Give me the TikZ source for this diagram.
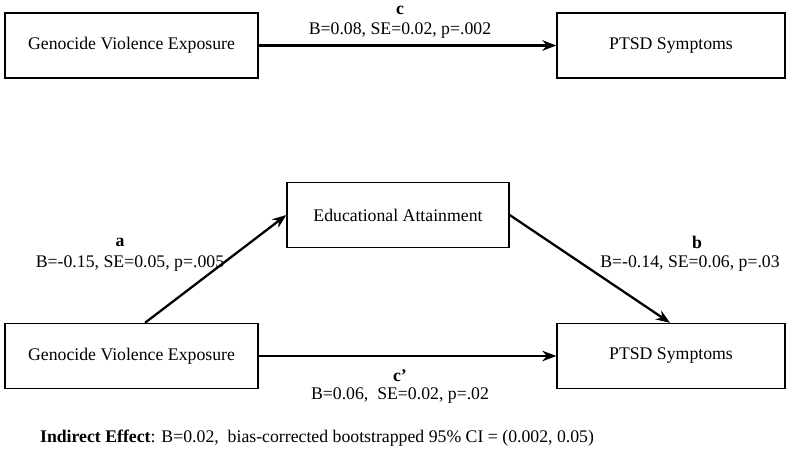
\documentclass[tikz,border=0pt]{standalone}
\usepackage{fontspec}
\setmainfont{Liberation Serif}
\usetikzlibrary{
    arrows.meta,
    positioning
}
\tikzset{
    every picture/.style = {
        > = {Stealth[length=8pt,width=6pt]},
        x = 0.02cm,
        y = -0.02cm
    },
    every node/.style = {
        font = \fontsize{10.1}{12}\selectfont,
        inner sep = 1pt,
        align = center
    },
    varbox/.style = {
        draw,
        thick,
        minimum width = #1,
        minimum height = 1.3cm
    },
    path/.style = {
        ->,
        line width = 1.3pt
    }
}

\begin{document}
\begin{tikzpicture}
    \useasboundingbox (0, 0) rectangle (800, 471);
    % total effect
    \node[varbox = 5.06cm] (gve1) at (131.5, 45.5) {Genocide Violence Exposure};
    \node[varbox = 4.56cm] (ptsd1) at (671, 45.5) {PTSD Symptoms};
    \draw[path] (gve1) -- (ptsd1);
    \node at (400, 10) {\textbf{c}};
    \node at (400, 30) {B=0.08, SE=0.02, p=.002};

    % mediation model
    \node[varbox = 4.44cm] (edu) at (398, 215) {Educational Attainment};
    \node[varbox = 5.06cm] (gve2) at (131.5, 356) {Genocide Violence Exposure};
    \node[varbox = 4.56cm] (ptsd2) at (671, 356) {PTSD Symptoms};
    \draw[path] (gve2.north -| 145, 0) -- (edu.west);
    \draw[path] (edu.east) -- (ptsd2.north -| 670, 0);
    \draw[path] (gve2) -- (ptsd2);

    \node at (120, 242) {\textbf{a}};
    \node at (130, 263) {B=-0.15, SE=0.05, p=.005};
    \node at (697, 242) {\textbf{b}};
    \node at (690, 263) {B=-0.14, SE=0.06, p=.03};
    \node at (400, 376) {\textbf{c’}};
    \node at (400, 395) {B=0.06,\ \ SE=0.02, p=.02};

    \node[anchor = west] at (38, 438) {\textbf{Indirect Effect}: B=0.02,\ \ bias-corrected bootstrapped 95\% CI = (0.002, 0.05)};
\end{tikzpicture}
\end{document}
